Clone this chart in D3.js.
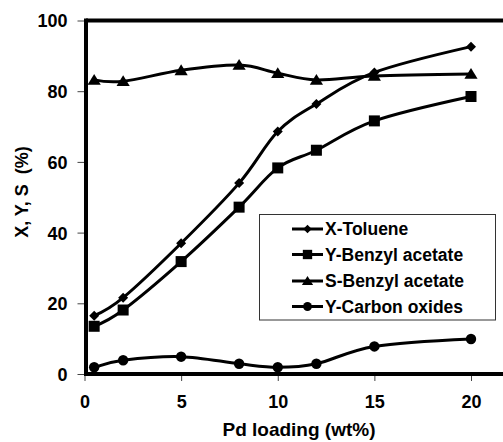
<!DOCTYPE html>
<html>
<head>
<meta charset="utf-8">
<script src="https://cdn.jsdelivr.net/npm/d3@7"></script>
<style>
  html, body { margin: 0; padding: 0; background: #fff; }
  svg { display: block; font-family: "Liberation Sans", Arial, sans-serif; font-weight: bold; }
</style>
</head>
<body>
<svg id="chart" width="503" height="442"></svg>
<script>
const loading = [0.5, 2, 5, 8, 10, 12, 15, 20];
const xToluene = [16.5, 21.6, 37.0, 54.0, 68.6, 76.4, 85.3, 92.6];
const yBenzylAcetate = [13.5, 18.1, 31.8, 47.2, 58.3, 63.3, 71.6, 78.5];
const sBenzylAcetate = [83.2, 82.8, 85.9, 87.4, 85.1, 83.2, 84.3, 84.9];
const yCarbonOxides = [1.9, 3.9, 4.9, 2.9, 1.9, 2.9, 7.8, 9.9];
const seriesNames = ["X-Toluene", "Y-Benzyl acetate", "S-Benzyl acetate", "Y-Carbon oxides"];
const xTicks = [0, 5, 10, 15, 20];
const yTicks = [0, 20, 40, 60, 80, 100];
const xTitle = "Pd loading (wt%)";
const yTitle = "X, Y, S  (%)";

const series = [
  { name: seriesNames[0], values: xToluene, marker: "diamond" },
  { name: seriesNames[1], values: yBenzylAcetate, marker: "square" },
  { name: seriesNames[2], values: sBenzylAcetate, marker: "triangle" },
  { name: seriesNames[3], values: yCarbonOxides, marker: "circle" }
];

const svg = d3.select("#chart");
const x = d3.scaleLinear().domain([0, 20]).range([84.5, 471]);
const y = d3.scaleLinear().domain([0, 100]).range([374, 20.5]);

// ticks
const yAxis = d3.axisLeft(y).tickValues(yTicks).tickSize(7).tickPadding(10);
const gy = svg.append("g").attr("transform", `translate(${x(0)},0)`).call(yAxis);
gy.select(".domain").remove();
gy.selectAll(".tick line").attr("stroke", "#444").attr("stroke-width", 1);
gy.selectAll(".tick text").attr("font-size", 18).attr("font-family", "Liberation Sans, Arial, sans-serif")
  .attr("font-weight", "bold").attr("fill", "#000").attr("dy", "0.36em");

const xAxis = d3.axisBottom(x).tickValues(xTicks).tickSize(7).tickPadding(14);
const gx = svg.append("g").attr("transform", `translate(0,${y(0)})`).call(xAxis);
gx.select(".domain").remove();
gx.selectAll(".tick line").attr("stroke", "#444").attr("stroke-width", 1);
gx.selectAll(".tick text").attr("font-size", 18).attr("font-family", "Liberation Sans, Arial, sans-serif")
  .attr("font-weight", "bold").attr("fill", "#000");

// frame lines
svg.append("line").attr("x1", x(0) + 1.5).attr("x2", 503).attr("y1", y(0)).attr("y2", y(0))
  .attr("stroke", "#000").attr("stroke-width", 4);
svg.append("line").attr("x1", x(0) + 1.5).attr("x2", 503).attr("y1", y(100)).attr("y2", y(100))
  .attr("stroke", "#000").attr("stroke-width", 4);
svg.append("line").attr("x1", x(0) + 1.5).attr("x2", x(0) + 1.5).attr("y1", y(100) - 2).attr("y2", y(0) + 2)
  .attr("stroke", "#000").attr("stroke-width", 4);

// titles
svg.append("text").attr("x", 299).attr("y", 436).attr("text-anchor", "middle")
  .attr("font-size", 19).text(xTitle);
svg.append("text").attr("transform", "translate(28,192) rotate(-90)").attr("text-anchor", "middle")
  .attr("font-size", 18).style("white-space", "pre").text(yTitle);

// marker drawing
function drawMarker(g, type, cx, cy, s) {
  if (type === "diamond") {
    g.append("path").attr("d", `M${cx},${cy - s}L${cx + s},${cy}L${cx},${cy + s}L${cx - s},${cy}Z`).attr("fill", "#000");
  } else if (type === "square") {
    g.append("rect").attr("x", cx - s).attr("y", cy - s).attr("width", 2 * s).attr("height", 2 * s).attr("fill", "#000");
  } else if (type === "triangle") {
    g.append("path").attr("d", `M${cx},${cy - s}L${cx + s * 1.1},${cy + s * 0.8}L${cx - s * 1.1},${cy + s * 0.8}Z`).attr("fill", "#000");
  } else {
    g.append("circle").attr("cx", cx).attr("cy", cy).attr("r", s).attr("fill", "#000");
  }
}
const markerSize = { diamond: 5, square: 5.5, triangle: 6, circle: 5.2 };

const line = d3.line().x((d, i) => x(loading[i])).y(d => y(d)).curve(d3.curveCatmullRom.alpha(0));
const plot = svg.append("g");
series.forEach(s => {
  plot.append("path").attr("d", line(s.values)).attr("fill", "none").attr("stroke", "#000").attr("stroke-width", 3);
  s.values.forEach((v, i) => drawMarker(plot, s.marker, x(loading[i]), y(v), markerSize[s.marker]));
});

// legend
const lg = svg.append("g");
lg.append("rect").attr("x", 259.5).attr("y", 214.5).attr("width", 236).attr("height", 105.5)
  .attr("fill", "#fff").attr("stroke", "#333").attr("stroke-width", 1);
const legendRows = [229, 254.5, 281, 306.5];
series.forEach((s, i) => {
  const ly = legendRows[i];
  lg.append("line").attr("x1", 292).attr("x2", 323).attr("y1", ly).attr("y2", ly).attr("stroke", "#000").attr("stroke-width", 3);
  drawMarker(lg, s.marker, 307.5, ly, markerSize[s.marker] * 0.85);
  lg.append("text").attr("x", 325).attr("y", ly).attr("dy", "0.36em").attr("font-size", 17.5).text(s.name);
});
</script>
</body>
</html>
